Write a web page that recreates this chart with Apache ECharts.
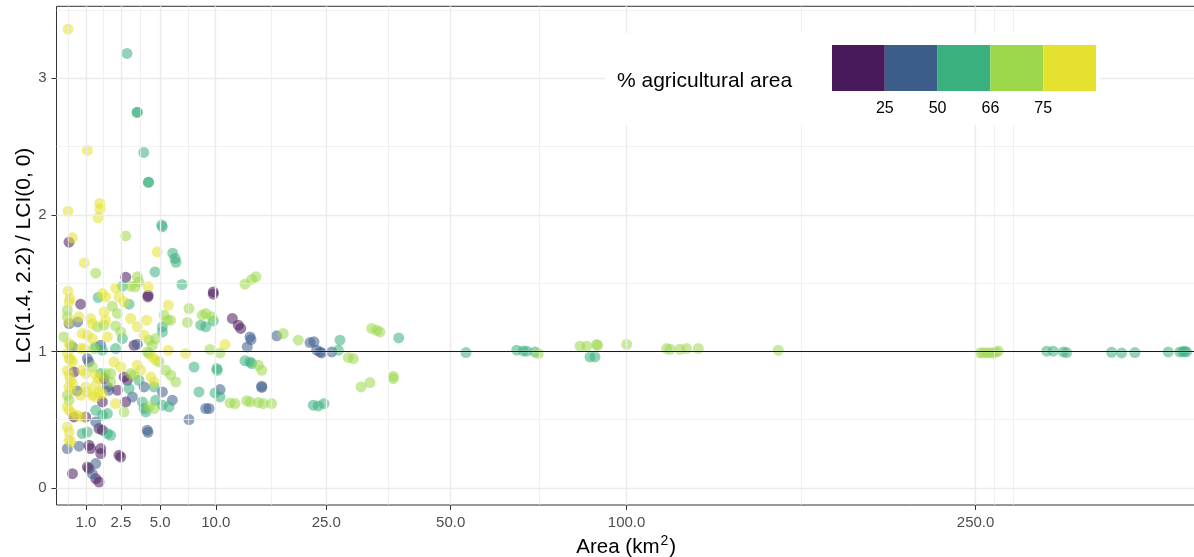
<!DOCTYPE html>
<html><head><meta charset="utf-8">
<script src="https://cdn.jsdelivr.net/npm/echarts@6/dist/echarts.min.js"></script>
<style>html,body{margin:0;padding:0;background:#fff}#c{width:1194px;height:557px}</style>
</head><body><div id="c"></div>
<script>
// ---- axis definitions (area in km², sqrt-scaled axis) ----
const xTickAreas = [1, 2.5, 5, 10, 25, 50, 100, 250];
const xTickLabels = ['1.0', '2.5', '5.0', '10.0', '25.0', '50.0', '100.0', '250.0'];
const xMinorAreas = [0.504, 1.665, 3.643, 7.285, 16.65, 36.43, 72.86, 166.6, 260, 270];
const xLimits = [0.259, 379.5];
const yTicks = [0, 1, 2, 3];
const yMinor = [0.5, 1.5, 2.5, 3.5];
const yLimits = [-0.1245, 3.527];
const refLine = 1;

// ---- legend ----
const agriTitle = '% agricultural area';
const agriBreakLabels = ['25', '50', '66', '75'];
const agriColors = ['#481a5c', '#3c5d8a', '#3bb07f', '#9cd84a', '#e4e22e'];

// ---- data: [area km², LCI(1.4,2.2)/LCI(0,0)] per agricultural class ----
const agriBelow25 = [[0.515,1.80],[2.76,1.544],[4.12,1.399],[4.14,1.41],[0.83,1.346],[9.73,1.436],[9.73,1.419],[11.81,1.241],[12.50,1.192],[12.79,1.168],[3.24,1.045],[0.64,0.85],[1.69,0.801],[2.67,0.813],[2.85,0.789],[2.32,0.716],[1.62,0.630],[2.76,0.630],[0.64,0.52],[0.99,0.52],[1.48,0.435],[1.62,0.423],[1.10,0.313],[1.16,0.289],[1.55,0.289],[1.55,0.252],[2.40,0.240],[2.49,0.227],[1.045,0.154],[1.10,0.142],[0.60,0.105],[1.35,0.069],[1.48,0.044]];
const agri25to50 = [[0.515,1.204],[0.74,1.216],[0.60,1.033],[3.44,1.053],[1.55,1.045],[1.045,0.948],[1.10,0.923],[0.73,0.711],[1.84,0.740],[1.91,0.716],[3.87,0.740],[5.16,0.703],[5.94,0.643],[8.96,0.582],[9.29,0.582],[3.14,0.667],[1.35,0.484],[4.08,0.423],[4.13,0.408],[7.37,0.501],[0.475,0.289],[0.78,0.306],[1.35,0.179],[1.22,0.105],[13.92,1.106],[14.04,1.087],[13.58,1.033],[17.43,1.114],[22.37,1.065],[23.0,1.070],[23.43,1.009],[23.97,0.996],[24.25,0.989],[25.92,0.996],[15.41,0.745],[15.41,0.736],[10.44,0.721]];
const agri50to66 = [[2.83,3.182],[3.42,2.75],[3.44,2.752],[3.85,2.457],[4.15,2.237],[4.17,2.24],[5.11,1.925],[5.16,1.912],[5.97,1.719],[6.16,1.681],[6.24,1.653],[4.62,1.582],[6.75,1.490],[2.58,1.478],[1.45,1.395],[2.95,1.346],[8.47,1.192],[8.96,1.180],[5.16,1.180],[9.73,1.223],[2.58,1.094],[5.16,1.143],[2.23,1.021],[1.35,1.033],[1.62,1.009],[1.55,0.838],[3.54,0.789],[7.83,0.886],[2.95,0.728],[4.55,0.740],[8.30,0.703],[3.75,0.630],[3.87,0.582],[3.98,0.557],[4.67,0.643],[5.16,0.606],[5.68,0.594],[1.35,0.569],[1.62,0.533],[1.84,0.545],[0.88,0.399],[1.045,0.410],[1.84,0.399],[1.99,0.386],[27.05,1.009],[27.34,1.082],[38.51,1.099],[13.30,0.931],[13.92,0.923],[14.13,0.911],[10.09,0.875],[10.15,0.862],[9.91,0.696],[10.44,0.667],[22.89,0.606],[23.70,0.601],[24.63,0.618],[53.68,0.992],[66.76,1.009],[68.57,1.004],[69.50,1.002],[71.83,0.996],[88.19,0.960],[89.76,0.960],[288.8,1.002],[292.5,1.002],[298.3,0.996],[300.2,0.992],[326.7,0.994],[332.8,0.989],[340.9,0.992],[361.7,0.996],[369.1,0.996],[371,0.998],[372.3,1.002],[373.4,0.996]];
const agri66to75 = [[2.76,1.846],[1.35,1.573],[3.44,1.546],[3.54,1.509],[3.30,1.473],[3.04,1.478],[2.07,1.331],[2.32,1.278],[7.37,1.314],[0.475,1.302],[0.475,1.253],[5.29,1.265],[5.54,1.229],[5.81,1.229],[7.22,1.212],[2.23,1.187],[1.41,1.180],[1.69,1.192],[2.49,1.143],[0.40,1.106],[0.556,1.045],[4.20,1.082],[4.43,1.045],[4.67,1.094],[1.29,1.021],[4.08,0.996],[4.20,0.985],[4.91,0.923],[5.42,0.862],[5.81,0.826],[6.22,0.777],[0.475,0.679],[0.515,0.643],[1.22,0.886],[1.76,0.838],[1.99,0.838],[1.99,0.777],[3.04,0.838],[3.24,0.826],[2.67,0.557],[4.20,0.594],[4.55,0.582],[8.62,1.265],[8.96,1.278],[9.57,1.253],[13.30,1.492],[14.13,1.527],[14.67,1.546],[18.36,1.131],[20.56,1.082],[28.81,0.955],[29.71,0.948],[33.14,1.168],[34.11,1.155],[34.75,1.143],[9.39,1.014],[10.44,0.989],[14.97,0.899],[15.41,0.862],[31.12,0.740],[32.81,0.772],[37.41,0.818],[37.41,0.801],[11.54,0.623],[12.12,0.618],[13.51,0.638],[13.92,0.630],[14.97,0.626],[15.62,0.618],[16.74,0.618],[72.76,0.985],[85.08,1.038],[87.16,1.038],[90.29,1.051],[90.6,1.045],[100.04,1.051],[113.8,1.021],[115.0,1.016],[118.6,1.016],[121.0,1.021],[125.3,1.021],[156.9,1.009],[252.3,0.989],[254,0.99],[255.8,0.989],[257.5,0.99],[259.4,0.989],[261,0.995],[262.1,1.004]];
const agriAbove75 = [[0.49,3.36],[1.045,2.472],[0.49,2.027],[1.51,2.083],[1.52,2.042],[1.44,1.978],[0.60,1.832],[4.78,1.729],[0.945,1.648],[4.15,1.473],[0.49,1.441],[0.54,1.388],[0.515,1.363],[1.62,1.424],[1.76,1.399],[2.23,1.465],[2.40,1.399],[2.67,1.363],[5.62,1.338],[0.78,1.253],[1.16,1.241],[1.22,1.204],[1.69,1.289],[1.76,1.229],[3.04,1.241],[3.44,1.180],[4.04,1.229],[0.515,1.216],[0.88,1.131],[1.045,1.119],[1.22,1.094],[1.84,1.106],[3.87,1.119],[0.515,1.058],[0.83,1.021],[0.94,1.021],[0.475,0.985],[0.515,0.948],[0.556,0.941],[0.60,0.923],[2.15,0.923],[2.49,0.886],[3.44,0.899],[3.65,0.862],[7.08,0.985],[4.43,0.96],[4.67,0.936],[0.475,0.862],[0.515,0.826],[0.556,0.789],[0.60,0.765],[0.88,0.862],[0.99,0.838],[1.35,0.826],[1.48,0.801],[4.32,0.813],[4.55,0.777],[0.515,0.740],[0.556,0.716],[0.99,0.740],[1.045,0.703],[1.35,0.752],[1.48,0.703],[1.62,0.692],[0.83,0.679],[1.22,0.679],[1.35,0.667],[2.23,0.618],[0.475,0.594],[0.515,0.569],[0.60,0.545],[0.73,0.533],[0.88,0.520],[0.475,0.447],[0.515,0.410],[0.515,0.350],[0.556,0.337],[10.99,1.051],[5.62,1.009]];
const agriGroups = [agriBelow25, agri25to50, agri50to66, agri66to75, agriAbove75];
const agriNames = ['< 25', '25–50', '50–66', '66–75', '> 75'];

// ---- build chart ----
const FONT = '"Liberation Sans", Arial, Helvetica, sans-serif';
const sq = a => Math.sqrt(a);
const xTicks = xTickAreas.map(sq);

const gridLineData = [];
xMinorAreas.forEach(a => gridLineData.push({xAxis: sq(a), lineStyle: {color: '#ebebeb', width: 0.7, type: 'solid'}}));
yMinor.forEach(v => gridLineData.push({yAxis: v, lineStyle: {color: '#ebebeb', width: 0.7, type: 'solid'}}));
xTicks.forEach(v => gridLineData.push({xAxis: v, lineStyle: {color: '#ebebeb', width: 1.4, type: 'solid'}}));
yTicks.forEach(v => gridLineData.push({yAxis: v, lineStyle: {color: '#ebebeb', width: 1.4, type: 'solid'}}));

const series = [{
  type: 'scatter', data: [], z: 1, silent: true,
  markLine: {silent: true, symbol: ['none', 'none'], label: {show: false}, animation: false, data: gridLineData}
}];
agriGroups.forEach((g, i) => {
  series.push({
    type: 'scatter', name: agriNames[i], z: 2,
    data: g.map(p => [sq(p[0]), p[1]]),
    symbolSize: 11,
    itemStyle: {color: agriColors[i], opacity: 0.55, borderWidth: 0},
    emphasis: {disabled: true}, silent: true
  });
});
series.push({
  type: 'scatter', data: [], z: 5, silent: true,
  markLine: {silent: true, symbol: ['none', 'none'], label: {show: false}, animation: false,
    data: [{yAxis: refLine, lineStyle: {color: '#1a1a1a', width: 1.1, type: 'solid'}}]}
});

// legend (drawn as graphic)
const lgX = 832, lgY = 45, lgW = 52.8, lgH = 46;
const graphic = [
  {type: 'rect', shape: {x: 605, y: 33, width: 495, height: 92}, style: {fill: '#ffffff'}, z: 50, silent: true},
  {type: 'text', x: 617, y: 81, style: {text: agriTitle, font: '21px ' + FONT, fill: '#000', verticalAlign: 'middle', align: 'left'}, z: 51, silent: true}
];
agriColors.forEach((c, i) => graphic.push({type: 'rect', shape: {x: lgX + i * lgW, y: lgY, width: lgW, height: lgH}, style: {fill: c}, z: 51, silent: true}));
agriBreakLabels.forEach((t, i) => graphic.push({type: 'text', x: lgX + (i + 1) * lgW, y: 109, style: {text: t, font: '16px ' + FONT, fill: '#000', align: 'center', verticalAlign: 'middle'}, z: 51, silent: true}));

const option = {
  animation: false,
  grid: {left: 56.5, right: -2, top: 6.3, bottom: 52, show: true, borderColor: '#333333', borderWidth: 1, containLabel: false, outerBoundsMode: 'none'},
  xAxis: {
    type: 'value', min: sq(xLimits[0]), max: sq(xLimits[1]), position: 'bottom',
    axisLine: {show: false, onZero: false}, splitLine: {show: false},
    axisTick: {show: true, customValues: xTicks, length: 5, lineStyle: {color: '#333333', width: 1}},
    axisLabel: {customValues: xTicks, color: '#4d4d4d', fontSize: 15, fontFamily: FONT, margin: 10,
      formatter: v => { let best = 0; xTicks.forEach((t, i) => { if (Math.abs(t - v) < Math.abs(xTicks[best] - v)) best = i; }); return xTickLabels[best]; }},
    name: '{a|Area (km}{s|2}{a|)}', nameLocation: 'middle', nameGap: 29, nameMoveOverlap: false,
    nameTextStyle: {rich: {a: {fontSize: 20.5, color: '#000', fontFamily: FONT, lineHeight: 24, verticalAlign: 'bottom'}, s: {fontSize: 14, color: '#000', fontFamily: FONT, lineHeight: 24, verticalAlign: 'top', padding: [0, 1, 0, 1]}}}
  },
  yAxis: {
    type: 'value', min: yLimits[0], max: yLimits[1], position: 'left',
    axisLine: {show: false, onZero: false}, splitLine: {show: false},
    axisTick: {show: true, customValues: yTicks, length: 5, lineStyle: {color: '#333333', width: 1}},
    axisLabel: {customValues: yTicks, color: '#4d4d4d', fontSize: 15, fontFamily: FONT, margin: 10, formatter: v => String(Math.round(v))},
    name: 'LCI(1.4, 2.2) / LCI(0, 0)', nameLocation: 'middle', nameGap: 22, nameRotate: 90, nameMoveOverlap: false,
    nameTextStyle: {fontSize: 21, color: '#000', fontFamily: FONT}
  },
  graphic: graphic,
  series: series
};
const chart = echarts.init(document.getElementById('c'), null, {renderer: 'canvas'});
chart.setOption(option);
</script></body></html>
